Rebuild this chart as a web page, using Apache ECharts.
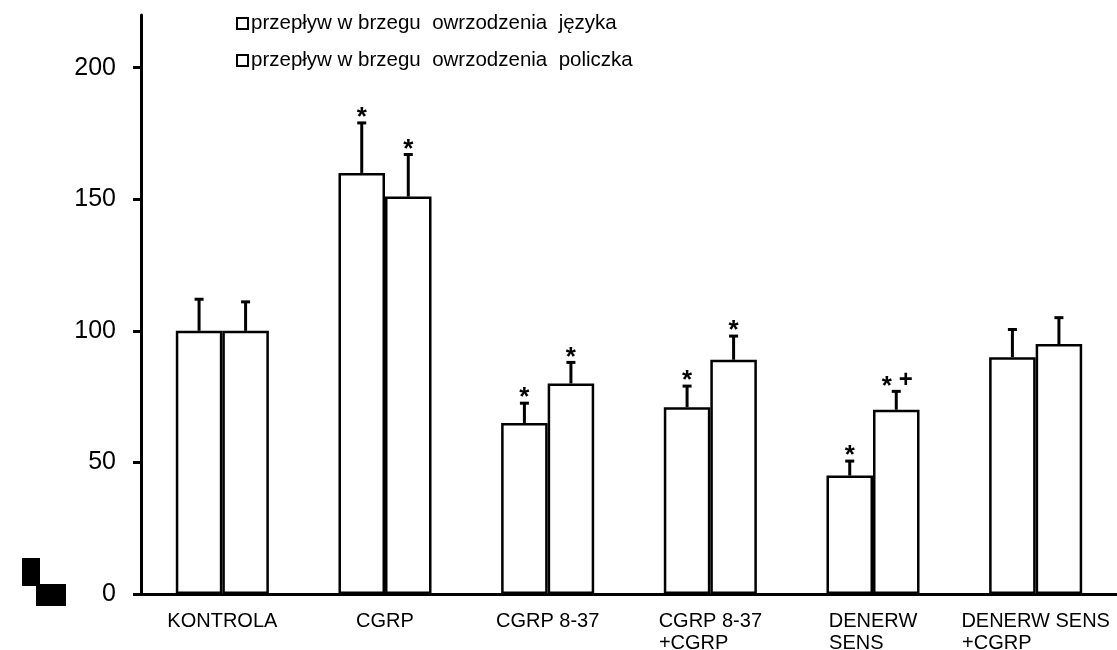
<!DOCTYPE html>
<html>
<head>
<meta charset="utf-8">
<script src="https://cdn.jsdelivr.net/npm/echarts@6/dist/echarts.min.js"></script>
<style>
html,body{margin:0;padding:0;background:#fff;}
#c{width:1117px;height:650px;}
</style>
</head>
<body>
<div id="c"></div>
<script>
var categories = ['KONTROLA', 'CGRP', 'CGRP 8-37', 'CGRP 8-37\n+CGRP      ', 'DENERW\nSENS      ', 'DENERW SENS\n+CGRP              '];
var seriesNames = ['przepływ w brzegu  owrzodzenia  języka', 'przepływ w brzegu  owrzodzenia  policzka'];
var jezyk = [100, 160, 65, 71, 45, 90];
var jezykErr = [12, 19, 7.5, 8, 5.5, 10.5];
var jezykMarks = ['', '*', '*', '*', '*', ''];
var policzek = [100, 151, 80, 89, 70, 95];
var policzekErr = [11, 16, 8, 9, 7, 10];
var policzekMarks = ['', '*', '*', '*', '* +', ''];
var yTicks = [0, 50, 100, 150, 200];

var FONT = '"Liberation Sans", Arial, sans-serif';
var BAR_FRAC = 0.286;

function errData(vals, errs, marks) {
  return vals.map(function (v, i) { return [i, v + errs[i], v, marks[i]]; });
}
function makeErr(side) {
  return function (params, api) {
    var i = api.value(0);
    var top = api.coord([i, api.value(1)]);
    var base = api.coord([i, api.value(2)]);
    var band = api.size([1, 0])[0];
    var off = side * band * BAR_FRAC / 2;
    var x = top[0] + off;
    var cap = 4.5;
    var children = [
      { type: 'line', shape: { x1: x, y1: base[1], x2: x, y2: top[1] }, style: { stroke: '#000', lineWidth: 3 } },
      { type: 'line', shape: { x1: x - cap, y1: top[1], x2: x + cap, y2: top[1] }, style: { stroke: '#000', lineWidth: 3 } }
    ];
    var mark = String(api.value(3) || '');
    if (mark) {
      var toks = mark.split(' ');
      var step = 19;
      var x0 = x - (toks.length - 1) * step / 2;
      toks.forEach(function (t, k) {
        var plus = t === '+';
        children.push({ type: 'text', x: x0 + k * step, y: top[1] - (plus ? 11 : 5),
          style: { text: t, fill: '#000', font: 'bold ' + (plus ? 24 : 26) + 'px ' + FONT, align: 'center', verticalAlign: 'middle' } });
      });
    }
    return { type: 'group', children: children };
  };
}

var chart = echarts.init(document.getElementById('c'), null, { renderer: 'canvas' });
chart.setOption({
  animation: false,
  backgroundColor: '#fff',
  grid: { left: 141, right: 0, top: 15, bottom: 56, containLabel: false, outerBoundsMode: 'none' },
  legend: {
    orient: 'vertical', left: 231, top: 8,
    itemWidth: 11, itemHeight: 11, itemGap: 16,
    icon: 'rect',
    data: seriesNames,
    itemStyle: { color: '#fff', borderColor: '#000', borderWidth: 2 },
    textStyle: { fontFamily: FONT, fontSize: 20.5, color: '#000', padding: [0, 0, 0, -2] }
  },
  xAxis: {
    type: 'category', data: categories,
    axisLine: { lineStyle: { color: '#000', width: 3 } },
    axisTick: { show: false },
    axisLabel: { color: '#000', fontFamily: FONT, fontSize: 20, margin: 16, lineHeight: 22, interval: 0 }
  },
  yAxis: {
    type: 'value', min: 0, max: 220,
    splitLine: { show: false },
    axisLine: { show: true, lineStyle: { color: '#000', width: 3 } },
    axisTick: { show: true, length: 8, lineStyle: { color: '#000', width: 3 }, customValues: yTicks },
    axisLabel: { color: '#000', fontFamily: FONT, fontSize: 25, margin: 25, customValues: yTicks }
  },
  series: [
    { name: seriesNames[0], type: 'bar', data: jezyk, barWidth: (BAR_FRAC * 100) + '%', barGap: '0%',
      itemStyle: { color: '#fff', borderColor: '#000', borderWidth: 2.5 } },
    { name: seriesNames[1], type: 'bar', data: policzek, barWidth: (BAR_FRAC * 100) + '%', barGap: '0%',
      itemStyle: { color: '#fff', borderColor: '#000', borderWidth: 2.5 } },
    { type: 'custom', renderItem: makeErr(-1), data: errData(jezyk, jezykErr, jezykMarks), z: 5, encode: { x: 0, y: 1 } },
    { type: 'custom', renderItem: makeErr(1), data: errData(policzek, policzekErr, policzekMarks), z: 5, encode: { x: 0, y: 1 } }
  ],
  graphic: [
    { type: 'rect', shape: { x: 22, y: 558, width: 18, height: 28 }, style: { fill: '#000' } },
    { type: 'rect', shape: { x: 36, y: 584, width: 30, height: 22 }, style: { fill: '#000' } }
  ]
});
</script>
</body>
</html>
